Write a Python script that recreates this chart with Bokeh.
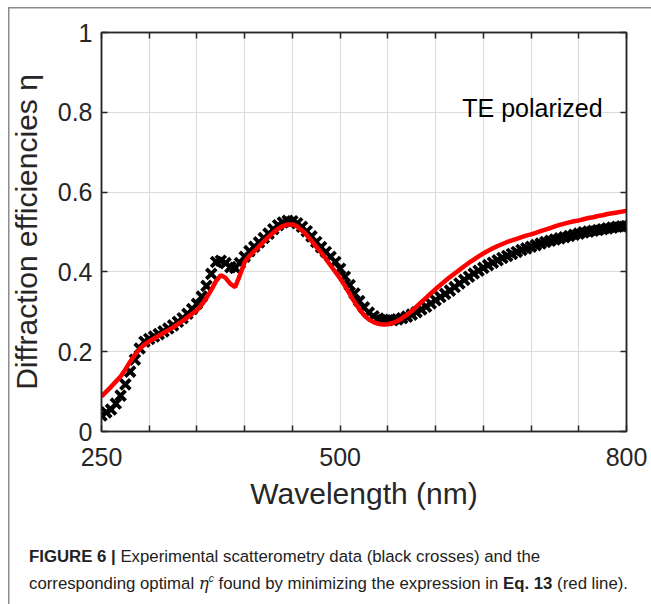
from bokeh.plotting import figure
from bokeh.models import FixedTicker, LinearAxis, Label, Div, ColumnDataSource
from bokeh.layouts import column
from bokeh.embed import file_html
from bokeh.resources import INLINE

# ---------------- data ----------------
wavelength = list(range(250, 801, 5))

eta_measured = [
    0.040, 0.048, 0.055, 0.070, 0.090, 0.118, 0.150, 0.180, 0.208, 0.225,
    0.232, 0.238, 0.244, 0.251, 0.258, 0.266, 0.275, 0.284, 0.295, 0.307,
    0.320, 0.338, 0.365, 0.395, 0.425, 0.428, 0.422, 0.412, 0.410, 0.422,
    0.438, 0.452, 0.463, 0.474, 0.485, 0.496, 0.507, 0.517, 0.524, 0.528,
    0.527, 0.522, 0.513, 0.502, 0.489, 0.475, 0.462, 0.450, 0.438, 0.425,
    0.408, 0.388, 0.367, 0.346, 0.327, 0.311, 0.298, 0.289, 0.283, 0.280,
    0.279, 0.279, 0.281, 0.284, 0.288, 0.293, 0.299, 0.306, 0.313, 0.321,
    0.329, 0.337, 0.345, 0.353, 0.362, 0.371, 0.380, 0.388, 0.396, 0.403,
    0.410, 0.417, 0.423, 0.429, 0.435, 0.440, 0.445, 0.450, 0.455, 0.459,
    0.463, 0.467, 0.471, 0.475, 0.478, 0.481, 0.484, 0.487, 0.490, 0.493,
    0.496, 0.499, 0.501, 0.503, 0.505, 0.507, 0.509, 0.511, 0.513, 0.514,
    0.515,
]

eta_fit = [
    0.088, 0.100, 0.112, 0.125, 0.138, 0.155, 0.175, 0.192, 0.207, 0.218,
    0.226, 0.233, 0.240, 0.247, 0.254, 0.261, 0.269, 0.277, 0.286, 0.295,
    0.304, 0.318, 0.335, 0.355, 0.377, 0.392, 0.385, 0.370, 0.362, 0.392,
    0.425, 0.440, 0.452, 0.464, 0.476, 0.488, 0.498, 0.508, 0.515, 0.519,
    0.519, 0.514, 0.504, 0.492, 0.478, 0.463, 0.449, 0.433, 0.416, 0.400,
    0.384, 0.365, 0.345, 0.325, 0.307, 0.292, 0.281, 0.274, 0.270, 0.268,
    0.269, 0.272, 0.277, 0.284, 0.292, 0.302, 0.313, 0.324, 0.335, 0.346,
    0.357, 0.367, 0.377, 0.387, 0.396, 0.405, 0.414, 0.423, 0.431, 0.439,
    0.446, 0.453, 0.459, 0.465, 0.470, 0.475, 0.479, 0.483, 0.487, 0.491,
    0.494, 0.498, 0.502, 0.506, 0.510, 0.514, 0.518, 0.521, 0.524, 0.527,
    0.529, 0.532, 0.535, 0.537, 0.540, 0.542, 0.545, 0.547, 0.549, 0.551,
    0.553,
]

x_ticks = [250, 300, 350, 400, 450, 500, 550, 600, 650, 700, 750, 800]
x_tick_labels = {250: "250", 500: "500", 800: "800"}
y_ticks = [0, 0.2, 0.4, 0.6, 0.8, 1]
y_tick_labels = {0: "0", 0.2: "0.2", 0.4: "0.4", 0.6: "0.6", 0.8: "0.8", 1: "1"}

FONT = "Liberation Sans"
INK = "#262626"
FRAME = "#8c8c8c"

src_meas = ColumnDataSource(dict(x=wavelength, y=eta_measured))
src_fit = ColumnDataSource(dict(x=wavelength, y=eta_fit))

p = figure(width=651, height=538, x_range=(250, 800), y_range=(0, 1),
           output_backend="svg", toolbar_location=None,
           min_border_left=101, min_border_right=25, min_border_top=32,
           min_border_bottom=107)
p.border_fill_alpha = 0
p.background_fill_color = "white"
p.outline_line_color = INK
p.outline_line_width = 1.5

p.scatter("x", "y", source=src_meas, marker="x", size=14, line_width=3.8,
          color="black")
p.line("x", "y", source=src_fit, line_width=4.5, color="#ff0000")

# grid
p.xgrid.ticker = FixedTicker(ticks=x_ticks)
p.ygrid.ticker = FixedTicker(ticks=y_ticks)
for g in (p.xgrid[0], p.ygrid[0]):
    g.grid_line_color = "#dcdcdc"
    g.grid_line_width = 1.2


def style_axis(ax, ticks, labels, show_labels=True):
    ax.ticker = FixedTicker(ticks=ticks)
    ax.axis_line_color = INK
    ax.axis_line_width = 1.5
    ax.major_tick_line_color = INK
    ax.major_tick_line_width = 1.5
    ax.major_tick_in = 6
    ax.major_tick_out = 0
    ax.minor_tick_line_color = None
    ax.major_label_text_font = FONT
    ax.major_label_text_color = INK
    ax.axis_label_text_font = FONT
    ax.axis_label_text_color = INK
    ax.axis_label_text_font_style = "normal"
    if show_labels:
        ax.major_label_overrides = {k: labels.get(k, "") for k in ticks}
        ax.major_label_text_font_size = "25px"
    else:
        ax.major_label_text_font_size = "0px"
        ax.major_label_standoff = 0


xa = p.xaxis[0]
style_axis(xa, x_ticks, x_tick_labels)
xa.axis_label = "Wavelength (nm)"
xa.axis_label_text_font_size = "30px"
xa.major_label_standoff = 16
xa.axis_label_standoff = 8

ya = p.yaxis[0]
style_axis(ya, y_ticks, y_tick_labels)
ya.axis_label = "Diffraction efficiencies η"
ya.axis_label_text_font_size = "30px"
ya.major_label_standoff = 9
ya.axis_label_standoff = 12

top = LinearAxis()
style_axis(top, x_ticks, {}, show_labels=False)
p.add_layout(top, "above")
right = LinearAxis()
style_axis(right, y_ticks, {}, show_labels=False)
p.add_layout(right, "right")

p.add_layout(Label(x=775, y=0.812, text="TE polarized", text_align="right",
                   text_baseline="alphabetic", text_font=FONT,
                   text_font_size="25px", text_color="black"))

caption = Div(
    text=('<b>FIGURE 6 |</b> Experimental scatterometry data (black crosses) and the<br>'
          'corresponding optimal <i style="font-family:\'DejaVu Serif\',serif">&eta;</i>'
          '<sup style="font-size:10px"><i>c</i></sup> found by minimizing the expression in '
          '<b>Eq. 13</b> (red line).'),
    width=651, height=66, margin=(0, 0, 0, 0),
    styles={"font-family": FONT, "font-size": "16.8px", "line-height": "22px",
            "color": "#222", "padding-left": "29px", "padding-top": "8px",
            "box-sizing": "border-box", "white-space": "nowrap"})

layout = column(
    p, caption, spacing=0,
    styles={
        "background-image": f"linear-gradient({FRAME},{FRAME}), linear-gradient({FRAME},{FRAME})",
        "background-size": "1.5px 100%, 100% 1.5px",
        "background-position": "8px 7px, 8px 7px",
        "background-repeat": "no-repeat",
    })

open("out.html", "w").write(file_html(layout, INLINE))
